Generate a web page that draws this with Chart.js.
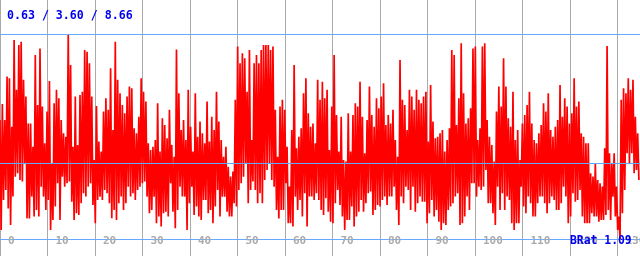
<!DOCTYPE html>
<html>
<head>
<meta charset="utf-8">
<title>BRat trace</title>
<script src="https://cdn.jsdelivr.net/npm/chart.js@4/dist/chart.umd.min.js"></script>
<style>
  html, body { margin: 0; padding: 0; background: #fff; }
  #wrap { width: 640px; height: 256px; }
</style>
</head>
<body>
<div id="wrap"><canvas id="trace" width="640" height="256"></canvas></div>
<script>
/* ── data ── */
const xTickLabels = [0, 10, 20, 30, 40, 50, 60, 70, 80, 90, 100, 110, 120, 130];
const minValue = 0.63;
const avgValue = 3.60;
const maxValue = 8.66;
const bratValue = 1.09;
const sampleStep = 0.4954;   // x distance between successive peak samples

// local maxima, left to right
const peakValues = [
  5.31,5.94,5.31,7.01,6.94,5.05,8.44,6.49,8.24,8.37,
  6.88,6.23,5.18,5.18,4.27,7.85,5.90,8.11,5.84,4.40,
  5.64,6.84,3.62,5.97,6.49,6.16,5.31,4.79,4.66,8.66,
  7.46,4.27,6.23,4.34,6.29,6.42,8.05,7.98,7.53,6.23,
  3.75,5.86,4.47,4.08,5.64,6.16,5.71,7.33,4.92,8.37,
  6.88,6.36,5.90,5.58,6.23,6.62,6.55,4.99,4.79,5.44,
  6.94,6.42,6.03,4.40,4.14,4.27,4.53,5.97,
  4.08,5.38,5.12,4.60,5.71,4.34,3.88,8.07,6.36,4.92,
  5.31,4.53,6.49,5.05,4.08,6.36,4.66,5.25,4.79,4.40,
  6.03,4.47,5.44,4.92,6.42,5.25,4.53,3.88,4.27,3.49,
  3.10,3.30,6.10,8.18,7.53,7.92,7.72,6.42,8.05,4.53,
  7.53,7.85,7.53,8.05,8.24,8.24,8.24,8.05,8.18,5.71,
  3.88,5.84,6.10,5.71,4.27,2.71,4.92,7.46,4.21,4.66,
  4.99,6.36,6.94,5.58,5.05,5.18,4.40,6.88,
  6.10,6.81,6.16,6.49,4.14,5.84,7.85,5.51,4.08,5.44,
  3.75,3.69,5.58,4.08,5.51,5.97,5.84,6.81,5.44,4.01,
  5.31,6.62,5.51,5.05,6.16,5.77,6.23,6.75,5.12,5.51,
  5.18,5.71,4.53,3.88,7.66,6.10,5.90,4.92,6.49,6.23,
  5.71,6.49,6.10,5.97,6.23,6.42,4.47,6.68,5.25,4.60,
  4.66,4.79,4.92,4.08,4.53,4.99,8.05,7.85,5.12,6.16,
  8.31,6.36,5.18,5.38,5.77,8.11,8.18,4.53,
  4.99,8.18,8.31,5.31,4.66,4.34,3.69,5.64,6.62,5.84,
  7.72,6.62,5.38,5.05,6.42,4.53,4.92,3.75,5.18,5.51,
  5.90,6.42,5.18,4.53,4.40,4.79,5.12,5.97,5.64,6.36,
  4.92,4.66,5.05,5.31,6.68,5.44,6.16,5.84,5.18,5.58,
  6.94,5.84,6.03,4.79,4.66,4.40,4.40,3.23,3.10,3.62,
  2.97,2.84,2.71,4.21,8.20,4.01,3.62,4.01,2.71,1.54,
  6.10,6.55,6.36,6.94,6.49,6.88,5.44,4.79
];

// local minima, each one just after the matching peak
const troughValues = [
  1.02,2.19,2.58,1.86,1.21,2.32,3.10,3.23,2.97,2.91,
  3.62,1.47,1.47,2.32,1.54,1.80,1.54,2.71,2.32,1.80,
  2.19,1.02,1.41,1.93,2.84,1.41,3.10,2.71,2.84,2.91,
  2.12,1.41,1.67,1.60,2.06,2.45,2.32,2.71,2.84,1.99,
  1.28,2.19,2.32,2.19,2.58,2.45,2.06,1.47,1.80,1.41,
  2.06,2.32,1.80,2.06,2.71,2.32,2.45,2.19,2.58,2.71,
  2.84,2.91,2.32,1.67,1.80,2.32,1.28,1.54,
  1.15,1.67,1.73,1.54,2.84,1.73,1.08,1.80,2.71,2.32,
  2.32,1.02,2.06,2.71,1.60,1.93,1.54,1.41,2.19,2.19,
  1.67,1.80,1.28,1.93,2.58,1.54,2.32,2.32,1.73,1.54,
  1.54,2.06,1.93,2.58,2.84,3.10,3.62,2.06,2.58,2.91,
  2.58,2.06,2.45,2.06,2.97,3.36,3.62,2.97,2.71,1.80,
  1.47,1.80,1.80,2.84,1.28,1.28,1.15,2.32,1.80,2.19,
  1.54,2.45,1.15,2.32,2.32,2.19,2.45,2.19,
  1.80,1.60,2.26,1.73,1.34,1.28,2.06,2.58,1.99,1.54,
  1.02,1.41,1.41,1.93,1.15,1.54,1.73,2.19,1.73,2.06,
  2.45,2.52,1.60,1.80,1.99,1.93,2.19,2.32,1.99,2.32,
  2.32,2.71,1.80,1.21,2.32,2.06,2.71,2.58,1.80,2.71,
  1.73,2.06,2.32,2.12,2.12,1.28,1.67,2.19,1.54,1.80,
  1.34,1.02,1.28,1.21,1.80,1.93,2.06,2.32,2.45,1.21,
  1.28,1.54,2.32,1.80,2.84,2.84,2.32,2.71,
  2.58,2.71,3.36,2.06,2.06,1.67,1.21,2.71,1.80,2.45,
  1.80,2.32,2.19,1.28,1.02,1.28,1.28,2.71,1.93,1.67,
  2.32,2.06,1.54,1.54,2.06,2.32,2.32,2.06,1.67,2.06,
  2.32,2.19,1.80,1.80,2.06,2.71,2.32,1.28,1.54,2.45,
  2.12,2.19,2.58,1.54,1.28,1.28,1.28,1.67,1.54,1.54,
  1.34,1.41,1.41,1.60,1.80,1.41,2.32,1.54,1.02,0.63,
  1.67,2.58,4.01,3.62,4.01,3.23,3.36,2.97
];

/* ── build the series: peak, trough, peak, trough ... ── */
const tracePoints = [];
peakValues.forEach((p, i) => {
    tracePoints.push({ x: i * sampleStep, y: p });
    tracePoints.push({ x: i * sampleStep + sampleStep / 2, y: troughValues[i] });
});

const GRID_GREY = '#aaaaaa';
const REF_BLUE = '#66aaff';
const TEXT_BLUE = '#0000ee';
const MONO = "'DejaVu Sans Mono', 'Liberation Mono', monospace";

// grey verticals behind the trace, blue reference lines + text on top
const overlay = {
    id: 'overlay',
    beforeDatasetsDraw(chart) {
        const ctx = chart.ctx, xs = chart.scales.x, area = chart.chartArea;
        ctx.save();
        ctx.strokeStyle = GRID_GREY;
        ctx.lineWidth = 1;
        xTickLabels.forEach(v => {
            const px = Math.round(xs.getPixelForValue(v)) + 0.5;
            ctx.beginPath();
            ctx.moveTo(px, area.top);
            ctx.lineTo(px, area.bottom);
            ctx.stroke();
        });
        ctx.restore();
    },
    afterDatasetsDraw(chart) {
        const ctx = chart.ctx, xs = chart.scales.x, ys = chart.scales.y, area = chart.chartArea;
        ctx.save();
        ctx.strokeStyle = REF_BLUE;
        ctx.lineWidth = 1;
        [maxValue, avgValue, minValue].forEach(v => {
            const py = Math.floor(ys.getPixelForValue(v)) + 0.5;
            ctx.beginPath();
            ctx.moveTo(area.left, py);
            ctx.lineTo(area.right, py);
            ctx.stroke();
        });

        // x tick labels, just right of each grid line
        ctx.font = 'bold 11px ' + MONO;
        ctx.textBaseline = 'middle';
        ctx.textAlign = 'left';
        ctx.fillStyle = GRID_GREY;
        xTickLabels.forEach(v => {
            ctx.fillText(String(v), xs.getPixelForValue(v) + 8, 241);
        });

        ctx.fillStyle = TEXT_BLUE;
        ctx.font = 'bold 11.6px ' + MONO;
        ctx.fillText(minValue.toFixed(2) + ' / ' + avgValue.toFixed(2) + ' / ' + maxValue.toFixed(2), 7, 16);
        ctx.font = 'bold 11.4px ' + MONO;
        ctx.fillText('BRat ' + bratValue.toFixed(2), 570, 241);
        ctx.restore();
    }
};

new Chart(document.getElementById('trace'), {
    type: 'line',
    data: {
        datasets: [{
            data: tracePoints,
            borderColor: '#ff0000',
            borderWidth: 1.7,
            pointRadius: 0,
            tension: 0,
            fill: false
        }]
    },
    options: {
        responsive: false,
        animation: false,
        devicePixelRatio: 1,
        layout: { padding: 0 },
        plugins: { legend: { display: false }, tooltip: { enabled: false } },
        scales: {
            x: { type: 'linear', display: false, min: 0, max: 134.74 },
            y: { type: 'linear', display: false, min: 0, max: 10 }
        }
    },
    plugins: [overlay]
});
</script>
</body>
</html>
